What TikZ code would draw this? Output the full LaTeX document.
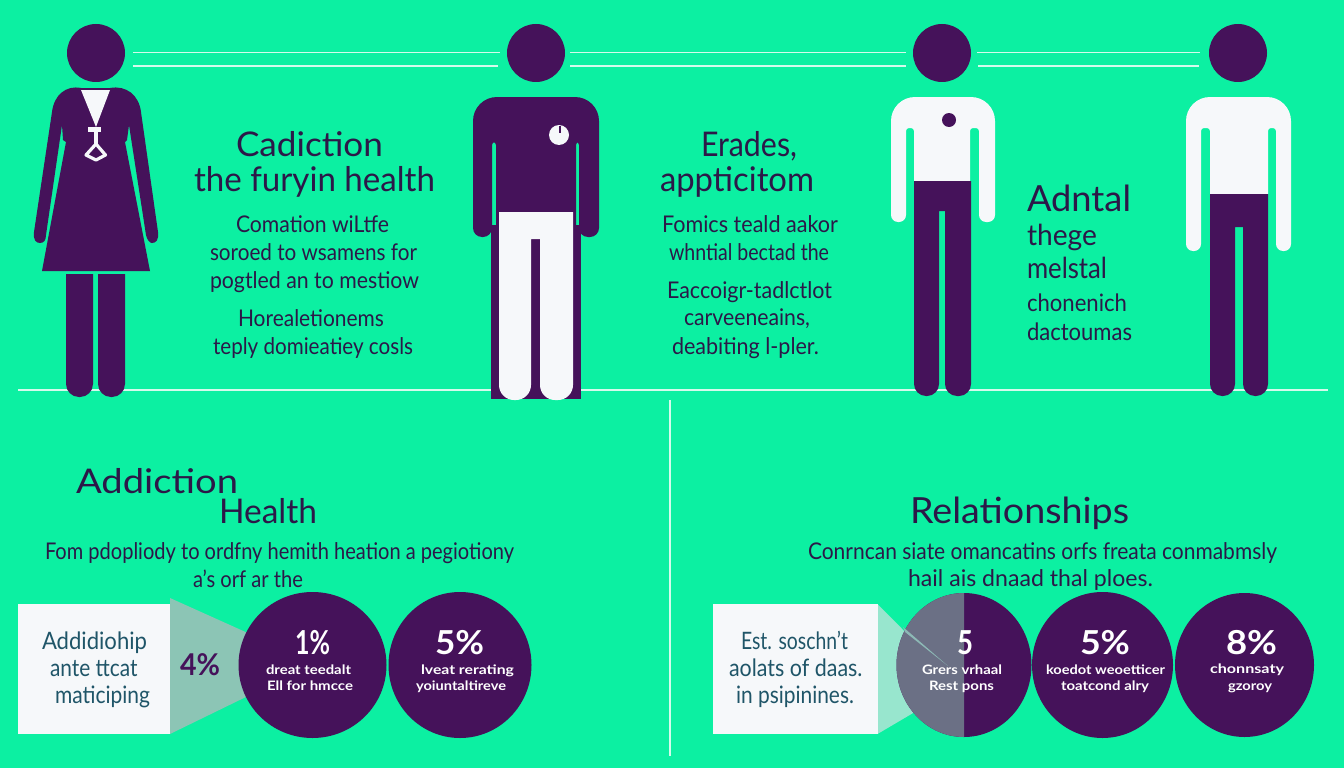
\documentclass[tikz,border=0pt]{standalone}
\usepackage{graphicx}
\usepackage{fontspec}
\setmainfont{Lato}
\usetikzlibrary{shapes.geometric}
\definecolor{bgc}{HTML}{0CF0A2}
\definecolor{plum}{HTML}{45125A}
\definecolor{inkc}{HTML}{2C1848}
\definecolor{tealink}{HTML}{1F5568}
\definecolor{rule}{HTML}{D4FBEC}
\definecolor{paper}{HTML}{F6F8FA}
\definecolor{wedge}{HTML}{8CC5B5}
\definecolor{wedgeb}{HTML}{98E6CE}
\definecolor{shade}{HTML}{6B7085}
\definecolor{streak}{HTML}{8DB9B6}
\tikzset{
  head/.style={circle,fill=plum,inner sep=0pt,minimum size=58pt},
  rulel/.style={draw=rule,line width=1.1pt},
  txt/.style={anchor=base west,inner sep=0pt,outer sep=0pt,text=inkc},
  disc/.style={ellipse,fill=plum,inner sep=0pt},
  panel/.style={fill=paper,inner sep=0pt,anchor=north west},
}
% name, left x, baseline y, width, size, text
\newcommand\tx[7][inkc]{\node[txt,text=#1,font=\fontsize{#6}{#6}\selectfont] (#2) at (#3,#4) {\resizebox{#5pt}{\height}{#7}};}
\newcommand\sm[1]{{\bfseries #1}}
\def\hr{7pt}
% left x, arm inner, torso left, torso right, arm inner, right x, armpit y, hand y, torso bottom y
\newcommand\shirt[9]{(#1,160) [rounded corners=24pt] -- (#1,97) -- (#6,97) [rounded corners=\hr] -- (#6,#8) -- (#5,#8) [rounded corners=3pt] -- (#5,#7) -- (#4,#7) [sharp corners] -- (#4,#9) -- (#3,#9) [rounded corners=3pt] -- (#3,#7) -- (#2,#7) [rounded corners=\hr] -- (#2,#8) -- (#1,#8) [sharp corners] -- cycle}
\begin{document}
\begin{tikzpicture}[x=1pt,y=-1pt]
\useasboundingbox (0,0) rectangle (1344,768);
\fill[bgc] (0,0) rectangle (1344,768);

% rules
\coordinate (t1a) at (133,52.5); \coordinate (t1b) at (500,52.5);
\coordinate (t2a) at (133,66); \coordinate (t2b) at (498,66);
\coordinate (t3a) at (570,52.5); \coordinate (t3b) at (906,52.5);
\coordinate (t4a) at (570,66); \coordinate (t4b) at (906,66);
\coordinate (t5a) at (977,52.5); \coordinate (t5b) at (1200,52.5);
\coordinate (t6a) at (978,66); \coordinate (t6b) at (1199,66);
\coordinate (floorl) at (18,390); \coordinate (floorr) at (1328,390);
\coordinate (divt) at (670,400); \coordinate (divb) at (670,756);
\draw[rulel] (t1a)--(t1b); \draw[rulel] (t2a)--(t2b);
\draw[rulel] (t3a)--(t3b); \draw[rulel] (t4a)--(t4b);
\draw[rulel] (t5a)--(t5b); \draw[rulel] (t6a)--(t6b);
\draw[rulel] (floorl)--(floorr);
\draw[rulel] (divt)--(divb);

% figure 1
\node[head] (h1) at (96,53) {};
\fill[plum] (81,88) .. controls (66,85) and (54,95) .. (52,112) -- (34,232) .. controls (33,240) and (36,243) .. (40,243) .. controls (44,243) and (46,240) .. (46,235) -- (62,125) -- (63,140) -- (66,142) -- (42,271) -- (150,271) -- (125,142) -- (127,140) -- (129,125) -- (146,235) .. controls (147,240) and (150,243) .. (152,243) .. controls (156,243) and (159,240) .. (158,232) -- (141,112) .. controls (139,95) and (126,85) .. (110,88) -- cycle;
\fill[paper] (81,90) -- (110,90) -- (96,127) -- cycle;
\fill[paper] (88,127) rectangle (101,132);
\fill[paper] (94,132) rectangle (98,144);
\draw[paper,line width=3.2pt,line join=round] (96,144) -- (86,155) -- (96,160) -- (105.5,155) -- cycle;
\fill[plum] (66,274) -- (93,274) [rounded corners=13pt] -- (93,397) -- (66,397) [sharp corners] -- cycle;
\fill[plum] (98,274) -- (125,274) [rounded corners=13pt] -- (125,397) -- (98,397) [sharp corners] -- cycle;

% figure 2
\node[head] (h2) at (536,53) {};
\fill[plum] (491,225) rectangle (581,399);
\def\hr{9pt}
\fill[plum] \shirt{473}{492}{496}{576}{579}{599}{142}{237}{232};
\def\hr{7pt}
\fill[paper] (499,212) -- (573,212) [rounded corners=15pt] -- (573,400) -- (540,400) [sharp corners] -- (540,239) -- (531,239) [rounded corners=15pt] -- (531,400) -- (499,400) [sharp corners] -- cycle;
\fill[paper] (559,135) circle (10pt);
\fill[plum] (558.5,126) rectangle (561,133);

% figure 3
\node[head] (h3) at (942,53) {};
\fill[paper] \shirt{891}{906}{914}{970}{979}{995}{128}{222}{181};
\fill[plum] (949,120) circle (7pt);
\fill[plum] (914,181) -- (971,181) [rounded corners=12pt] -- (971,396) -- (945,396) [sharp corners] -- (945,211) -- (939,211) [rounded corners=12pt] -- (939,396) -- (914,396) [sharp corners] -- cycle;

% figure 4
\node[head] (h4) at (1238,53) {};
\fill[paper] \shirt{1186}{1201}{1210}{1268}{1276}{1291}{128}{251}{194};
\fill[plum] (1210,194) -- (1268,194) [rounded corners=12pt] -- (1268,396) -- (1243,396) [sharp corners] -- (1243,227) -- (1235,227) [rounded corners=12pt] -- (1235,396) -- (1210,396) [sharp corners] -- cycle;

% upper text
\tx{a1}{236}{156}{147}{34}{Cadiction}
\tx{a2}{194}{191}{241}{34}{the furyin health}
\tx{a3}{236}{232}{153}{23}{Comation wiLtfe}
\tx{a4}{210}{260}{207}{23}{soroed to wsamens for}
\tx{a5}{210}{288}{209}{23}{pogtled an to mestiow}
\tx{a6}{238}{326}{146}{23}{Horealetionems}
\tx{a7}{213}{354}{200}{23}{teply domieatiey cosls}

\tx{b1}{701}{156}{96}{34}{Erades,}
\tx{b2}{660}{191}{154}{34}{appticitom}
\tx{b3}{662}{232}{176}{23}{Fomics teald aakor}
\tx{b4}{669}{260}{160}{23}{whntial bectad the}
\tx{b5}{667}{298}{165}{23}{Eaccoigr-tadlctlot}
\tx{b6}{684}{325}{126}{23}{carveeneains,}
\tx{b7}{672}{354}{147}{23}{deabiting l-pler.}

\tx{c1}{1027}{211}{104}{36}{Adntal}
\tx{c2}{1027}{245}{70}{29}{thege}
\tx{c3}{1027}{278}{80}{29}{melstal}
\tx{c4}{1027}{311}{100}{24}{chonenich}
\tx{c5}{1027}{340}{105}{24}{dactoumas}

% lower headings
\tx{d1}{76}{493}{162}{34}{Addiction}
\tx{d2}{219}{523}{98}{34}{Health}
\tx{d3}{45}{559}{469}{23}{Fom pdopliody to ordfny hemith heation a pegiotiony}
\tx{d4}{193}{587}{110}{23}{a's orf ar the}
\tx{e1}{910}{523}{219}{36}{Relationships}
\tx{e2}{808}{559}{469}{23}{Conrncan siate omancatins orfs freata conmabmsly}
\tx{e3}{908}{586}{245}{23}{hail ais dnaad thal ploes.}

% left panel
\fill[wedge] (170,598) -- (250,634) -- (250,695) -- (170,734) -- cycle;
\node[panel,minimum width=152.5pt,minimum height=130pt] (p1) at (17.5,604) {};
\node[disc,minimum width=148pt,minimum height=146pt] (k1) at (312.5,665) {};
\node[disc,minimum width=143pt,minimum height=146pt] (k2) at (460,665) {};
\tx[tealink]{p1a}{42}{649}{105}{24}{Addidiohip}
\tx[tealink]{p1b}{50}{676}{87.5}{24}{ante ttcat}
\tx[tealink]{p1c}{55}{703}{95}{24}{maticiping}
\tx[plum]{w4}{180}{675}{40}{30}{\sm{4\%}}
\tx[white]{k1a}{295}{654}{35}{33}{\sm{1\%}}
\tx[white]{k1b}{266}{674}{85}{13}{\sm{dreat teedalt}}
\tx[white]{k1c}{267}{690}{86}{13}{\sm{Ell for hmcce}}
\tx[white]{k2a}{435}{654}{49}{33}{\sm{5\%}}
\tx[white]{k2b}{421}{674}{93}{13}{\sm{lveat rerating}}
\tx[white]{k2c}{416}{690}{90}{13}{\sm{yoiuntaltireve}}

% right panel
\fill[wedgeb] (877.5,604) -- (925,652) -- (925,706) -- (877.5,734) -- cycle;
\node[panel,minimum width=165pt,minimum height=130pt] (p2) at (712.5,604) {};
\node[disc,minimum width=135pt,minimum height=144pt] (k3) at (964,665) {};
\begin{scope}
  \clip (880,580) rectangle (964,750);
  \node[disc,fill=shade,minimum width=135pt,minimum height=144pt] at (964,665) {};
\end{scope}
\fill[streak] (903,627) -- (905,632) -- (948,666) -- cycle;
\node[disc,minimum width=141pt,minimum height=146pt] (k4) at (1102.5,665) {};
\node[disc,minimum width=139pt,minimum height=144pt] (k5) at (1244.5,665) {};
\tx[tealink]{p2a}{741}{649}{107}{24}{Est. soschn't}
\tx[tealink]{p2b}{729}{676}{133.5}{24}{aolats of daas.}
\tx[tealink]{p2c}{736}{703}{118}{24}{in psipinines.}
\tx[white]{k3a}{957}{654}{16}{33}{\sm{5}}
\tx[white]{k3b}{922}{674}{80}{13}{\sm{Grers vrhaal}}
\tx[white]{k3c}{929}{690}{65}{13}{\sm{Rest pons}}
\tx[white]{k4a}{1080}{654}{50}{33}{\sm{5\%}}
\tx[white]{k4b}{1046}{674}{119}{13}{\sm{koedot weoetticer}}
\tx[white]{k4c}{1061}{690}{88}{13}{\sm{toatcond alry}}
\tx[white]{k5a}{1226}{654}{51}{33}{\sm{8\%}}
\tx[white]{k5b}{1210}{673}{74}{13}{\sm{chonnsaty}}
\tx[white]{k5c}{1228}{690}{44}{13}{\sm{gzoroy}}
\end{tikzpicture}
\end{document}
